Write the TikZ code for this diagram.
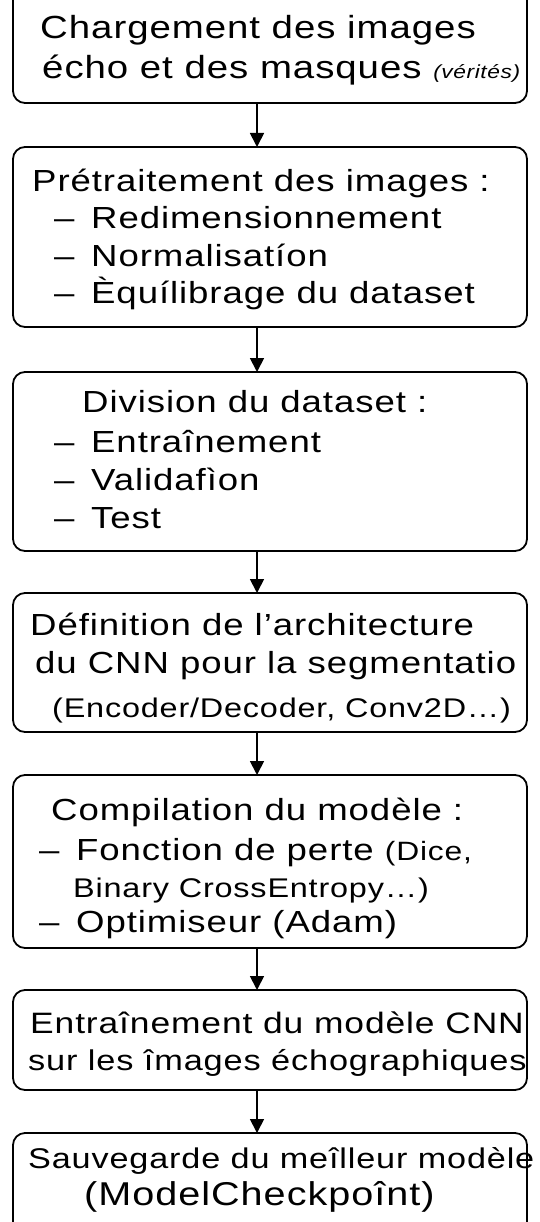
\documentclass[tikz,border=0pt]{standalone}
\usepackage{fontspec}
\setmainfont{Liberation Sans}[FakeStretch=1.2,LetterSpace=3]
\usetikzlibrary{arrows.meta}

\newcommand{\tiret}{\makebox[37pt][l]{–}}

\tikzset{
  stepbox/.style={draw=black, line width=1.8pt, rounded corners=12pt, inner sep=0pt, outer sep=0pt, minimum width=514pt},
  txt/.style={anchor=base west, inner sep=0pt, font=\fontsize{#1}{#1}\selectfont},
  txt/.default=30.5,
  arr/.style={line width=1.8pt, -{Triangle[length=14pt,width=14pt]}},
}

\begin{document}
\begin{tikzpicture}[x=1pt,y=-1pt]
\useasboundingbox (0,0) rectangle (539,1222);

\node[stepbox, minimum height=123pt](b1) at (270,41.5) {};
\node[stepbox, minimum height=180pt](b2) at (270,237) {};
\node[stepbox, minimum height=179pt](b3) at (270,461.5) {};
\node[stepbox, minimum height=139pt](b4) at (270,662.5) {};
\node[stepbox, minimum height=173pt](b5) at (270,861.5) {};
\node[stepbox, minimum height=100pt](b6) at (270,1040) {};
\node[stepbox, minimum height=117pt](b7) at (270,1191.5) {};

\node[txt=32](t1a) at (40,39) {Chargement des images};
\node[txt=32](t1b) at (42,79) {écho et des masques {\fontsize{19}{22}\selectfont\itshape (vérités)}};

\node[txt](t2a) at (32,192) {Prétraitement des images :};
\node[txt](t2b) at (54,229) {\tiret Redimensionnement};
\node[txt](t2c) at (54,267) {\tiret Normalisatíon};
\node[txt](t2d) at (54,304) {\tiret Èquílibrage du dataset};

\node[txt](t3a) at (82,412) {Division du dataset :};
\node[txt](t3b) at (54,452) {\tiret Entraînement};
\node[txt](t3c) at (54,490) {\tiret Validafìon};
\node[txt](t3d) at (54,528) {\tiret Test};

\node[txt](t4a) at (30,635) {Définition de l’architecture};
\node[txt](t4b) at (35,673) {du CNN pour la segmentatio};
\node[txt=27](t4c) at (52,717) {(Encoder/Decoder, Conv2D…)};

\node[txt](t5a) at (51,820) {Compilation du modèle :};
\node[txt](t5b) at (39,860) {\tiret Fonction de perte {\fontsize{26.5}{30}\selectfont (Dice,}};
\node[txt=27](t5c) at (73,897) {Binary CrossEntropy…)};
\node[txt](t5d) at (39,932) {\tiret Optimiseur (Adam)};

\node[txt=29.5](t6a) at (30,1033) {Entraînement du modèle CNN};
\node[txt=28.6](t6b) at (28,1070) {sur les îmages échographiques};

\node[txt=28.5](t7a) at (28,1168) {Sauvegarde du meîlleur modèle};
\node[txt=33](t7b) at (84,1205) {(ModelCheckpoînt)};

\coordinate (ax) at (257,0);
\draw[arr] (b1.south -| ax) -- (b2.north -| ax);
\draw[arr] (b2.south -| ax) -- (b3.north -| ax);
\draw[arr] (b3.south -| ax) -- (b4.north -| ax);
\draw[arr] (b4.south -| ax) -- (b5.north -| ax);
\draw[arr] (b5.south -| ax) -- (b6.north -| ax);
\draw[arr] (b6.south -| ax) -- (b7.north -| ax);
\end{tikzpicture}
\end{document}
